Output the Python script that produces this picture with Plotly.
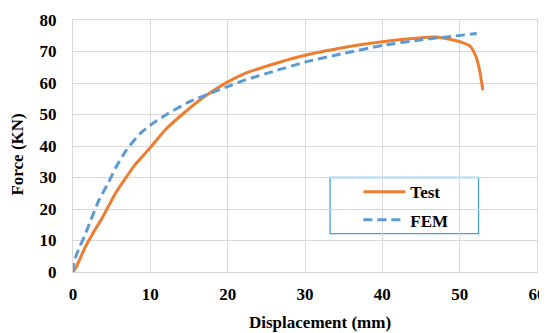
import plotly.graph_objects as go

test_x = [0, 0.5, 1.5, 2.5, 3.5, 4.5, 5.5, 7, 8, 10, 12, 14.5, 17.2, 19.9, 22.2, 26.7, 30, 35, 40, 44.7, 47, 48.8, 50.2, 51.3, 52.1, 52.6, 53]
test_y = [0, 2, 7.5, 12, 16, 20.5, 25, 30.5, 34, 39.5, 45.3, 50.8, 56, 60.2, 63, 66.6, 68.8, 71.3, 73.1, 74.3, 74.6, 73.8, 73, 71.8, 68.5, 63.8, 57.7]

fem_x = [0, 0.1, 0.7, 1.5, 2.3, 3.3, 4.6, 5.5, 6.9, 8.7, 10, 12.3, 15, 17.7, 19.9, 22.2, 25.8, 30.1, 35, 40.2, 44.7, 49.3, 52.2]
fem_y = [0, 3, 7, 11.5, 16.4, 22.5, 28.5, 33, 38.7, 44, 46.6, 50.3, 54, 56.7, 58.8, 60.9, 63.6, 66.7, 69.4, 72, 73.6, 74.9, 75.7]

x_ticks = [0, 10, 20, 30, 40, 50, 60]
y_ticks = [0, 10, 20, 30, 40, 50, 60, 70, 80]
x_title = "Displacement (mm)"
y_title = "Force (KN)"

FONT = "Times New Roman, Liberation Serif, serif"
GRID = "#d9d9d9"
FS = 17

fig = go.Figure()
fig.add_trace(go.Scatter(x=test_x, y=test_y, mode="lines", name="Test", legendgroup="a",
                         line=dict(color="#ED7D31", width=3, shape="spline", smoothing=0.6)))
fig.add_trace(go.Scatter(x=fem_x, y=fem_y, mode="lines", name="FEM", legendgroup="b",
                         line=dict(color="#5B9BD5", width=3, dash="9px,5px", shape="spline", smoothing=0.6)))

# page body has an 8px margin; size and margins compensate for it
fig.update_layout(
    width=539, height=325,
    margin=dict(l=65, r=10, t=12, b=61, autoexpand=False),
    paper_bgcolor="white", plot_bgcolor="white",
    font=dict(family=FONT, size=FS, color="black", weight="bold"),
    xaxis=dict(range=[0, 60], tickvals=x_ticks, showgrid=True, gridcolor=GRID, gridwidth=1.3,
               showline=True, linecolor=GRID, linewidth=1.3, mirror=True, zeroline=False,
               automargin=False, ticks="", ticklabelstandoff=6),
    yaxis=dict(range=[0, 80], tickvals=y_ticks, showgrid=True, gridcolor=GRID, gridwidth=1.3,
               showline=True, linecolor=GRID, linewidth=1.3, mirror=True, zeroline=False,
               automargin=False, ticks="", ticklabelstandoff=12),
    showlegend=True,
    legend=dict(x=0.615, y=0.388, xanchor="left", yanchor="top", bgcolor="rgba(0,0,0,0)",
                borderwidth=0, traceorder="grouped", tracegroupgap=3, itemwidth=42,
                font=dict(family=FONT, size=FS, weight="bold")),
    shapes=[dict(type="rect", xref="paper", yref="paper", x0=0.554, x1=0.874, y0=0.1526, y1=0.375,
                 line=dict(color="#4a9fd6", width=1.3), fillcolor="white", layer="between")],
    annotations=[
        dict(text=x_title, xref="paper", yref="paper", x=0.532, y=-0.202, xanchor="center",
             yanchor="middle", showarrow=False, font=dict(family=FONT, size=FS, weight="bold")),
        dict(text=y_title, xref="paper", yref="paper", x=-0.1196, y=0.464, xanchor="center",
             yanchor="middle", textangle=-90, showarrow=False,
             font=dict(family=FONT, size=FS, weight="bold")),
    ],
)
fig.write_html("out.html")
